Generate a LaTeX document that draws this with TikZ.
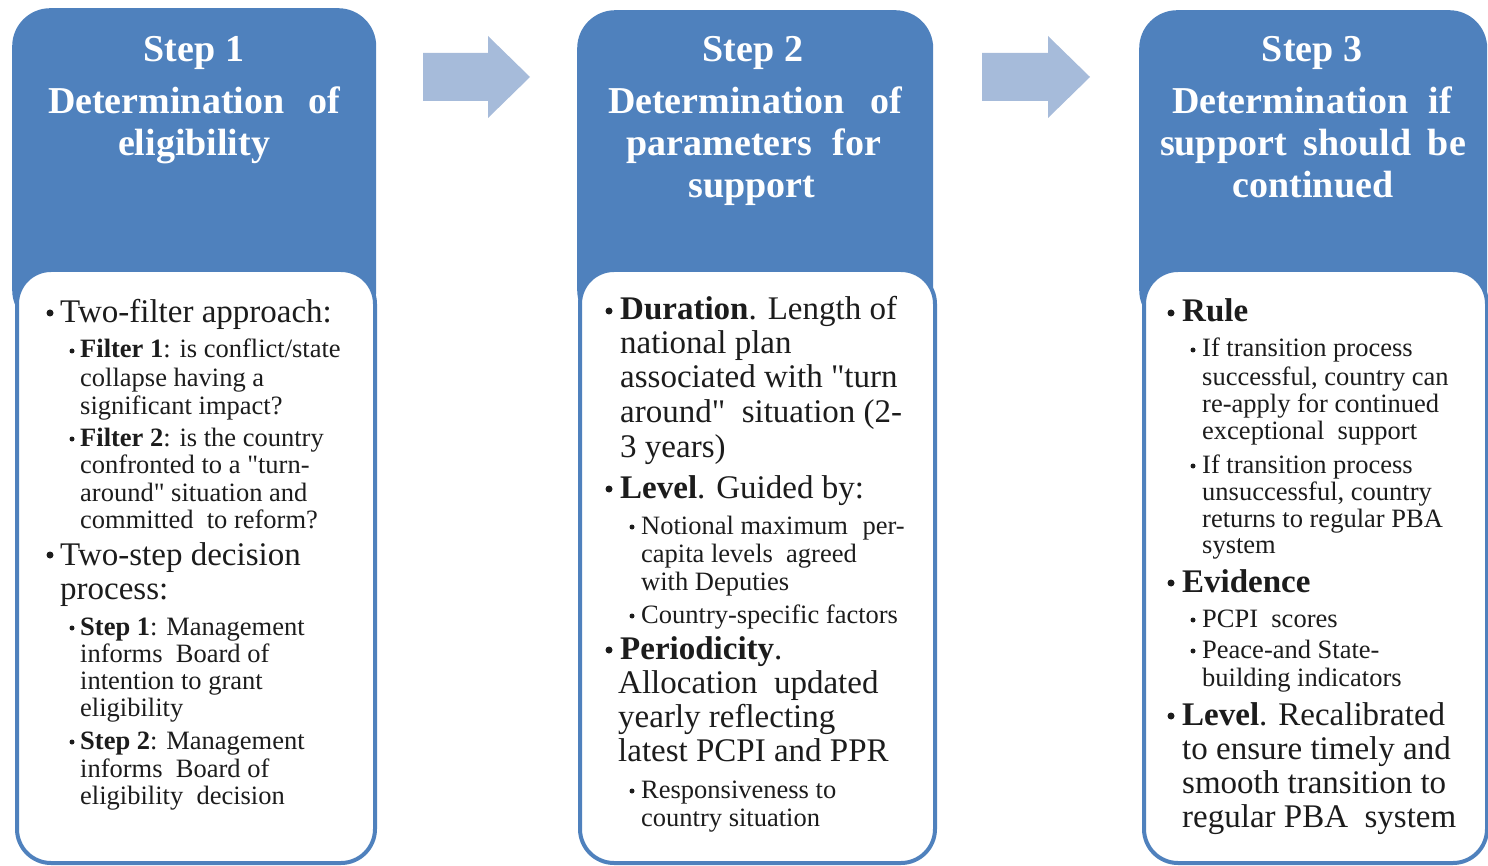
\documentclass[tikz,border=0pt]{standalone}
\usepackage{fontspec}
\setmainfont{Liberation Serif}
\setmonofont{Liberation Serif}
\newcommand{\sq}{{\ttfamily"}}
\definecolor{hdrblue}{RGB}{79,129,189}
\definecolor{arrblue}{RGB}{166,187,218}
\definecolor{txt}{RGB}{28,28,28}
\begin{document}
\begin{tikzpicture}[x=1pt,y=-1pt,
  hdr/.style={fill=hdrblue, rounded corners=38pt, inner sep=0pt, anchor=north west},
  bodybox/.style={fill=white, draw=hdrblue, line width=4pt, rounded corners=34pt, inner sep=0pt, anchor=north west},
  blockarrow/.style={fill=arrblue},
  htxt/.style={text=white, font=\fontsize{38}{42}\selectfont\bfseries, inner sep=0pt, anchor=base},
  mtxt/.style={text=txt, font=\fontsize{33}{34}\selectfont, inner sep=0pt, anchor=base west},
  stxt/.style={text=txt, font=\fontsize{26.5}{28}\selectfont, inner sep=0pt, anchor=base west},
  mbul/.style={circle, fill=txt, minimum size=7pt, inner sep=0pt},
  sbul/.style={circle, fill=txt, minimum size=5pt, inner sep=0pt},
]
\useasboundingbox (0,0) rectangle (1488,866);

% headers
\node[hdr, minimum width=364pt, minimum height=320pt] (h1) at (12,8) {};
\node[hdr, minimum width=356pt, minimum height=318pt] (h2) at (577,10) {};
\node[hdr, minimum width=348pt, minimum height=318pt] (h3) at (1139,10) {};

% bodies
\node[bodybox, minimum width=358pt, minimum height=593pt] (b1) at (15,268) {};
\node[bodybox, minimum width=355pt, minimum height=593pt] (b2) at (578,268) {};
\node[bodybox, minimum width=343pt, minimum height=593pt] (b3) at (1142,268) {};

% block arrows
\coordinate (a1s) at (423,77);
\coordinate (a2s) at (982,77);
\fill[blockarrow] (a1s) ++(0,-24) -- ++(65,0) -- ++(0,-17) -- ++(42,41) -- ++(-42,41) -- ++(0,-17) -- ++(-65,0) -- cycle;
\fill[blockarrow] (a2s) ++(0,-24) -- ++(66,0) -- ++(0,-17) -- ++(42,41) -- ++(-42,41) -- ++(0,-17) -- ++(-66,0) -- cycle;

% header texts
\node[htxt] (t1a) at (194,62) {Step 1};
\node[htxt] (t1b) at (194,114) {\makebox[292pt][s]{Determination of}};
\node[htxt] (t1c) at (194,156) {eligibility};

\node[htxt] (t2a) at (753,62) {Step 2};
\node[htxt] (t2b) at (755,114) {\makebox[294pt][s]{Determination of}};
\node[htxt] (t2c) at (754,156) {\makebox[255pt][s]{parameters for}};
\node[htxt] (t2d) at (752,198) {support};

\node[htxt] (t3a) at (1312,62) {Step 3};
\node[htxt] (t3b) at (1312,114) {\makebox[280pt][s]{Determination if}};
\node[htxt] (t3c) at (1313,156) {\makebox[306pt][s]{support should be}};
\node[htxt] (t3d) at (1313,198) {continued};

% ---- column 1
\node[mbul] (c1b1) at (50,313) {};
\node[mtxt] (c1l1) at (60,323) {Two-filter approach:};
\node[sbul] (c1b2) at (72,351) {};
\node[stxt] (c1l2) at (80,358) {\textbf{Filter 1}: is conflict/state};
\node[stxt] (c1l3) at (80,386) {collapse having a};
\node[stxt] (c1l4) at (80,414) {significant impact?};
\node[sbul] (c1b3) at (72,439) {};
\node[stxt] (c1l5) at (80,446) {\textbf{Filter 2}: is the country};
\node[stxt] (c1l6) at (80,473) {confronted to a \sq turn-};
\node[stxt] (c1l7) at (80,501) {around\sq{} situation and};
\node[stxt] (c1l8) at (80,528) {committed\hspace{0.25em} to reform?};
\node[mbul] (c1b4) at (50,555) {};
\node[mtxt] (c1l9) at (60,565) {Two-step decision};
\node[mtxt] (c1l10) at (60,599) {process:};
\node[sbul] (c1b5) at (72,628) {};
\node[stxt] (c1l11) at (80,635) {\textbf{Step 1}: Management};
\node[stxt] (c1l12) at (80,662) {informs\hspace{0.25em} Board of};
\node[stxt] (c1l13) at (80,689) {intention to grant};
\node[stxt] (c1l14) at (80,716) {eligibility};
\node[sbul] (c1b6) at (72,742) {};
\node[stxt] (c1l15) at (80,749) {\textbf{Step 2}: Management};
\node[stxt] (c1l16) at (80,777) {informs\hspace{0.25em} Board of};
\node[stxt] (c1l17) at (80,804) {eligibility\hspace{0.25em} decision};

% ---- column 2
\node[mbul] (c2b1) at (609,311) {};
\node[mtxt] (c2l1) at (620,320) {\textbf{Duration}. Length of};
\node[mtxt] (c2l2) at (620,354) {national plan};
\node[mtxt] (c2l3) at (620,388) {associated with \sq turn};
\node[mtxt] (c2l4) at (620,422) {around\sq\hspace{0.25em} situation (2-};
\node[mtxt] (c2l5) at (620,457) {3 years)};
\node[mbul] (c2b2) at (609,489) {};
\node[mtxt] (c2l6) at (620,498) {\textbf{Level}. Guided by:};
\node[sbul] (c2b3) at (632,527) {};
\node[stxt] (c2l7) at (641,534) {Notional maximum\hspace{0.3em} per-};
\node[stxt] (c2l8) at (641,562) {capita levels\hspace{0.25em} agreed};
\node[stxt] (c2l9) at (641,590) {with Deputies};
\node[sbul] (c2b4) at (632,616) {};
\node[stxt] (c2l10) at (641,623) {Country-specific factors};
\node[mbul] (c2b5) at (609,650) {};
\node[mtxt] (c2l11) at (620,659) {\textbf{Periodicity}.};
\node[mtxt] (c2l12) at (618,693) {Allocation\hspace{0.25em} updated};
\node[mtxt] (c2l13) at (618,727) {yearly reflecting};
\node[mtxt] (c2l14) at (618,761) {latest PCPI and PPR};
\node[sbul] (c2b6) at (632,791) {};
\node[stxt] (c2l15) at (641,798) {Responsiveness to};
\node[stxt] (c2l16) at (641,826) {country situation};

% ---- column 3
\node[mbul] (c3b1) at (1171,313) {};
\node[mtxt] (c3l1) at (1182,322) {\textbf{Rule}};
\node[sbul] (c3b2) at (1193,350) {};
\node[stxt] (c3l2) at (1202,357) {If transition process};
\node[stxt] (c3l3) at (1202,385) {successful, country can};
\node[stxt] (c3l4) at (1202,412) {re-apply for continued};
\node[stxt] (c3l5) at (1202,439) {exceptional\hspace{0.25em} support};
\node[sbul] (c3b3) at (1193,466) {};
\node[stxt] (c3l6) at (1202,473) {If transition process};
\node[stxt] (c3l7) at (1202,500) {unsuccessful, country};
\node[stxt] (c3l8) at (1202,527) {returns to regular PBA};
\node[stxt] (c3l9) at (1202,553) {system};
\node[mbul] (c3b4) at (1171,583) {};
\node[mtxt] (c3l10) at (1182,592) {\textbf{Evidence}};
\node[sbul] (c3b5) at (1193,620) {};
\node[stxt] (c3l11) at (1202,627) {PCPI\hspace{0.25em} scores};
\node[sbul] (c3b6) at (1193,651) {};
\node[stxt] (c3l12) at (1202,658) {Peace-and State-};
\node[stxt] (c3l13) at (1202,686) {building indicators};
\node[mbul] (c3b7) at (1171,716) {};
\node[mtxt] (c3l14) at (1182,725) {\textbf{Level}. Recalibrated};
\node[mtxt] (c3l15) at (1182,759) {to ensure timely and};
\node[mtxt] (c3l16) at (1182,793) {smooth transition to};
\node[mtxt] (c3l17) at (1182,827) {regular PBA\hspace{0.25em} system};
\end{tikzpicture}
\end{document}
